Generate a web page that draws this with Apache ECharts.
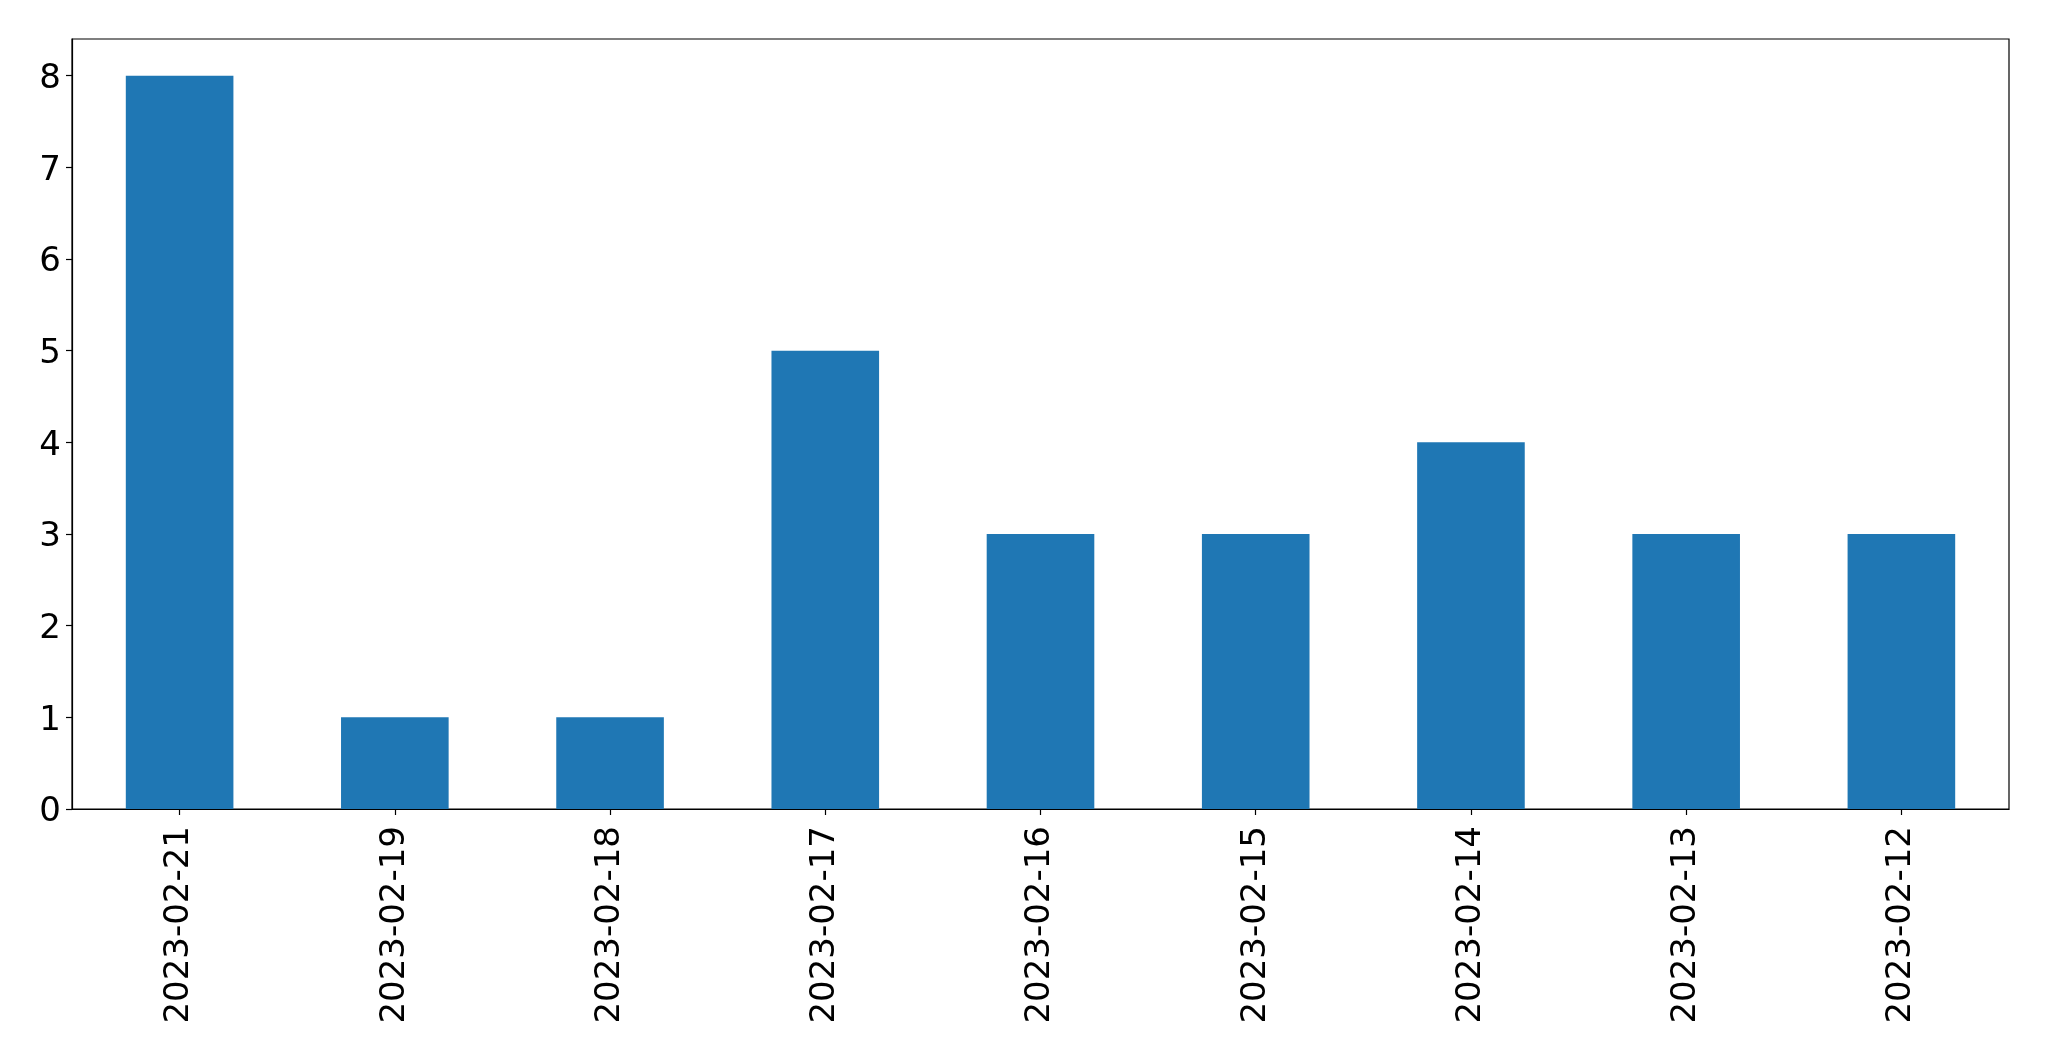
<!DOCTYPE html>
<html>
<head>
<meta charset="utf-8">
<script src="https://cdn.jsdelivr.net/npm/echarts@6/dist/echarts.min.js"></script>
<style>
  html, body { margin: 0; padding: 0; background: #fff; }
  #chart { width: 2049px; height: 1061px; }
</style>
</head>
<body>
<div id="chart"></div>
<script>
const dates = ['2023-02-21', '2023-02-19', '2023-02-18', '2023-02-17', '2023-02-16',
  '2023-02-15', '2023-02-14', '2023-02-13', '2023-02-12']
const counts = [8, 1, 1, 5, 3, 3, 4, 3, 3]
const yTicks = [0, 1, 2, 3, 4, 5, 6, 7, 8]

const chart = echarts.init(document.getElementById('chart'))

const option = {
  animation: false,
  backgroundColor: '#fff',
  grid: {
    left: 72,
    right: 40,
    top: 39,
    bottom: 252,
    show: true,
    borderColor: '#000',
    borderWidth: 1.2
  },
  xAxis: {
    type: 'category',
    data: dates,
    boundaryGap: true,
    axisLine: { show: true, lineStyle: { color: '#000', width: 1.2 } },
    axisTick: { show: true, alignWithLabel: true, length: 6, lineStyle: { color: '#000', width: 1.2 } },
    axisLabel: {
      rotate: 90,
      margin: 17,
      color: '#000',
      fontSize: 34,
      fontFamily: 'DejaVu Sans',
      interval: 0
    },
    splitLine: { show: false }
  },
  yAxis: {
    type: 'value',
    min: 0,
    max: 8.4,
    axisLine: { show: true, lineStyle: { color: '#000', width: 1.2 } },
    axisTick: { show: true, length: 6, customValues: yTicks, lineStyle: { color: '#000', width: 1.2 } },
    axisLabel: {
      margin: 11,
      color: '#000',
      customValues: yTicks,
      formatter: v => '{n|' + v + '}',
      rich: {
        n: {
          fontSize: 34,
          fontFamily: 'DejaVu Sans',
          color: '#000',
          padding: [7, 0, 0, 0]
        }
      }
    },
    splitLine: { show: false }
  },
  series: [{
    type: 'bar',
    data: counts,
    barWidth: '50%',
    itemStyle: { color: '#1f77b4' }
  }]
}

chart.setOption(option)
</script>
</body>
</html>
